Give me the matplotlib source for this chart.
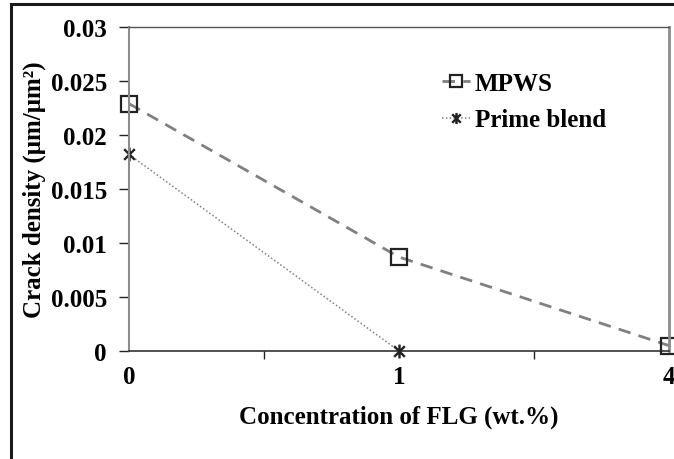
import matplotlib.pyplot as plt
from matplotlib.path import Path
from matplotlib.patches import Rectangle

# crack density vs FLG loading
flg_labels = ['0', '1', '4']
mpws = [0.0229, 0.0087, 0.0005]
prime_blend = [0.0182, 0.0]

plt.rcParams['font.family'] = ['Liberation Serif', 'DejaVu Serif']
plt.rcParams['font.weight'] = 'bold'

# Excel-style star marker: an x with a vertical bar
star = Path([(-1, -1), (1, 1), (-1, 1), (1, -1), (0, -1.3), (0, 1.3)],
            [Path.MOVETO, Path.LINETO, Path.MOVETO, Path.LINETO, Path.MOVETO, Path.LINETO])

fig = plt.figure(figsize=(6.74, 4.6), dpi=100)
ax = fig.add_axes([129 / 674, 108 / 460, 540 / 674, 324 / 460])

x = list(range(len(flg_labels)))
ax.plot(x, mpws, color='#808080', lw=2, ls=(0, (4.5, 3)),
        marker='s', ms=11, mfc='none', mec='#222222', mew=1.6, label='MPWS', clip_on=False)
ax.plot(x[:len(prime_blend)], prime_blend, color='#808080', lw=1.1, ls=(0, (1, 1.5)),
        marker=star, ms=10, mec='#222222', mew=1.7, label='Prime blend', clip_on=False)

ax.set_xlim(0, 2)
ax.set_ylim(0, 0.03)
ax.set_yticks([0, 0.005, 0.01, 0.015, 0.02, 0.025, 0.03])
ax.set_yticklabels(['0', '0.005', '0.01', '0.015', '0.02', '0.025', '0.03'])
ax.set_xticks(x)
ax.set_xticklabels(flg_labels)
ax.set_xticks([0.5, 1.5], minor=True)
ax.tick_params(axis='x', which='major', length=0, pad=10, labelsize=18)
ax.tick_params(axis='x', which='minor', length=6, width=1, color='#222222', direction='out')
ax.tick_params(axis='y', length=7, width=1, color='#222222', labelsize=18, pad=9)

ax.spines['bottom'].set_color('#222222')
ax.spines['bottom'].set_linewidth(1.1)
ax.spines['left'].set_color('#8c8c8c')
ax.spines['left'].set_linewidth(1.5)
ax.spines['right'].set_color('#8c8c8c')
ax.spines['right'].set_linewidth(2)
ax.spines['top'].set_color('#555555')
ax.spines['top'].set_linewidth(1)

ax.set_xlabel('Concentration of FLG (wt.%)', fontsize=18, fontweight='bold', labelpad=12)
ax.set_ylabel('Crack density (μm/μm²)', fontsize=18, fontweight='bold', labelpad=3)

ax.legend(loc='upper left', bbox_to_anchor=(0.58, 0.862), frameon=False, fontsize=18,
          handlelength=1.1, handletextpad=0.2, labelspacing=0.55, borderaxespad=0,
          borderpad=0, markerscale=0.8)

# outer frame around the figure
fig.patches.append(Rectangle((11 / 674, -0.1), 1.2, (455 / 460) + 0.1, transform=fig.transFigure,
                             fill=False, ec='#1a1a1a', lw=2.2))

plt.savefig('out.png', dpi=100)
